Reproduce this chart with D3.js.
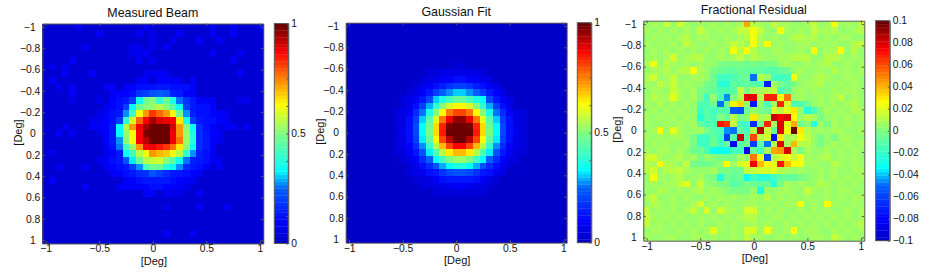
<!DOCTYPE html>
<html>
<head>
<meta charset="utf-8">
<script src="https://cdn.jsdelivr.net/npm/d3@7"></script>
<style>
  html, body { margin: 0; padding: 0; background: #fff; }
  text { font-family: "Liberation Sans", Arial, sans-serif; fill: #111; }
  .tick text { font-size: 10.3px; }
  .title { font-size: 12.4px; }
  .label { font-size: 11px; }
</style>
</head>
<body>
<svg id="chart" width="932" height="273"></svg>
<script>
// 33 x 33 maps, one row per line (percent of full scale)
const measuredRows = [
  [3,3,3,3,3,9,3,3,3,3,3,3,3,3,3,9,3,3,3,3,3,3,3,3,3,8,3,3,8,3,3,3,8],
  [3,3,3,3,3,3,3,3,8,3,3,3,3,3,8,3,7,3,3,3,8,3,3,3,3,8,3,3,8,3,3,3,3],
  [3,3,3,3,3,3,3,3,3,3,3,3,3,3,3,3,7,3,3,8,3,3,3,8,3,3,8,3,3,3,3,3,3],
  [3,3,3,3,3,3,8,3,3,3,3,3,3,7,7,3,7,3,8,3,3,3,3,3,3,3,3,3,3,3,3,3,3],
  [3,3,3,3,3,3,3,3,3,3,3,3,3,7,7,8,3,3,3,3,3,3,3,3,3,8,3,3,3,8,3,3,3],
  [3,3,3,3,8,3,3,3,3,3,3,3,3,3,8,3,8,3,3,3,3,3,3,3,3,3,3,3,8,3,3,3,3],
  [3,7,3,7,3,3,3,3,3,3,3,3,3,3,3,3,3,3,3,3,3,3,3,3,3,3,3,3,3,3,3,3,3],
  [3,3,3,8,3,3,3,8,3,3,3,3,3,3,3,7,7,9,7,3,3,3,3,3,3,3,3,3,3,8,3,3,3],
  [3,8,3,3,3,3,3,3,3,3,3,3,3,3,8,8,3,10,10,8,8,3,8,3,3,3,3,3,3,3,3,3,3],
  [3,3,7,3,8,3,3,3,3,8,9,3,8,10,12,12,12,14,14,12,12,11,9,3,3,3,3,3,3,3,3,3,3],
  [3,3,3,3,8,3,3,3,3,3,8,10,10,12,18,20,22,24,22,15,13,10,9,3,3,3,3,3,3,3,3,3,3],
  [3,3,3,3,6,3,3,3,7,3,10,11,13,20,35,47,50,40,48,36,25,18,13,10,8,8,3,3,3,7,7,3,3],
  [3,3,3,3,3,3,3,3,3,7,10,12,20,33,47,50,52,56,50,45,35,20,14,12,11,10,3,3,3,3,3,3,3],
  [3,3,3,3,3,3,3,3,6,9,11,14,28,42,62,72,82,78,73,62,48,28,15,12,12,10,9,7,3,3,3,3,3],
  [3,3,3,3,3,3,3,7,7,10,12,20,40,58,78,87,95,90,88,86,65,37,20,14,12,11,10,8,3,3,3,3,3],
  [3,3,3,8,3,3,3,8,8,10,14,34,55,72,88,95,100,100,100,90,73,50,33,16,11,8,6,9,9,3,9,3,3],
  [3,3,8,3,8,3,3,3,6,10,14,33,52,63,87,98,100,100,100,88,73,52,36,17,13,10,8,3,3,3,3,3,3],
  [3,3,3,3,3,3,3,3,3,10,14,28,50,62,87,93,100,100,100,88,76,52,38,17,13,9,7,3,3,3,3,3,3],
  [3,3,3,3,3,3,3,3,3,8,12,25,42,52,72,87,88,85,82,75,65,50,35,16,13,9,3,3,3,3,3,3,3],
  [3,7,3,3,3,3,3,3,3,7,10,14,35,42,55,62,72,70,68,62,55,40,28,15,12,8,3,3,3,3,3,3,3],
  [3,3,3,3,3,3,3,3,7,9,11,13,22,32,48,55,57,58,50,45,35,25,15,13,11,9,7,3,3,3,3,3,3],
  [3,3,8,3,3,3,8,3,3,8,10,12,14,20,28,42,47,46,38,34,28,16,13,11,9,3,8,3,3,3,3,3,3],
  [3,3,3,3,3,3,3,3,3,3,8,10,12,14,16,18,22,20,16,14,14,11,10,8,3,3,3,3,3,3,3,3,3],
  [3,8,3,3,3,3,3,3,3,3,3,3,8,10,12,14,14,14,13,12,10,8,8,3,3,3,3,3,3,3,3,3,3],
  [3,3,3,3,3,3,8,3,3,3,3,8,8,10,9,10,11,11,10,9,8,7,3,3,3,3,3,3,3,3,3,3,3],
  [3,3,3,3,3,3,3,3,3,3,3,3,3,3,3,8,9,3,7,7,7,3,3,8,3,3,3,3,3,3,3,3,3],
  [3,3,3,3,3,3,3,3,3,3,3,3,3,3,3,3,3,3,3,3,3,3,3,3,3,3,3,3,3,3,3,3,3],
  [3,3,3,3,3,3,3,3,3,3,3,3,3,3,3,3,3,3,7,3,3,3,3,8,3,3,3,8,3,3,3,3,3],
  [3,3,3,3,3,3,3,3,3,3,3,3,3,3,3,3,3,3,3,3,3,3,3,3,3,3,3,3,3,3,3,3,3],
  [3,3,3,3,3,3,3,3,3,3,3,3,3,3,3,3,3,3,3,3,3,3,3,3,3,3,3,3,3,3,3,3,3],
  [3,3,3,3,3,3,3,3,3,3,3,3,3,3,3,3,3,3,3,3,3,3,3,3,3,3,3,3,3,3,3,3,3],
  [3,3,3,3,3,3,3,3,3,3,3,3,3,3,3,3,3,3,8,3,3,3,8,3,3,3,3,3,3,3,3,3,3],
  [3,3,3,3,3,3,3,3,3,3,3,3,3,3,3,3,3,3,3,3,3,3,3,3,3,3,3,3,3,3,3,3,3]
];

const fitRows = [
  [1,1,1,1,1,1,1,1,1,1,1,1,1,1,1,1,1,1,1,1,1,1,1,1,1,1,1,1,1,1,1,1,1],
  [1,1,1,1,1,1,1,1,1,1,1,1,1,1,1,1,1,1,1,1,1,1,1,1,1,1,1,1,1,1,1,1,1],
  [1,1,1,1,1,1,1,1,1,1,1,1,1,1,1,1,1,1,1,1,1,1,1,1,1,1,1,1,1,1,1,1,1],
  [1,1,1,1,1,1,1,1,1,1,1,1,1,1,1,1,1,1,1,1,1,1,1,1,1,1,1,1,1,1,1,1,1],
  [1,1,1,1,1,1,1,1,1,1,1,1,1,1,1,1,1,1,1,1,1,1,1,1,1,1,1,1,1,1,1,1,1],
  [1,1,1,1,1,1,1,1,1,1,1,1,1,1,1,1,1,1,1,1,1,1,1,1,1,1,1,1,1,1,1,1,1],
  [1,1,1,1,1,1,1,1,1,1,1,1,1,1,1,1,4,4,1,1,1,1,1,1,1,1,1,1,1,1,1,1,1],
  [1,1,1,1,1,1,1,1,1,1,1,1,4,4,5,5,6,6,5,5,4,1,1,1,1,1,1,1,1,1,1,1,1],
  [1,1,1,1,1,1,1,1,1,1,1,4,5,7,9,10,11,11,10,9,7,5,1,1,1,1,1,1,1,1,1,1,1],
  [1,1,1,1,1,1,1,1,1,1,4,6,9,12,15,18,19,19,18,15,12,9,6,1,1,1,1,1,1,1,1,1,1],
  [1,1,1,1,1,1,1,1,1,4,6,10,14,19,24,28,31,31,28,24,19,14,10,6,1,1,1,1,1,1,1,1,1],
  [1,1,1,1,1,1,1,1,4,5,9,14,21,31,36,42,46,46,42,36,33,21,14,9,5,1,1,1,1,1,1,1,1],
  [1,1,1,1,1,1,1,1,4,7,12,20,29,40,50,58,63,63,58,50,40,29,20,12,7,1,1,1,1,1,1,1,1],
  [1,1,1,1,1,1,1,4,5,9,16,26,37,51,64,75,81,81,75,64,51,37,26,16,9,5,4,1,1,1,1,1,1],
  [1,1,1,1,1,1,1,4,6,11,19,30,44,60,76,89,96,96,89,76,60,44,30,19,11,6,4,1,1,1,1,1,1],
  [1,1,1,1,1,1,1,4,6,12,21,33,48,66,83,97,100,100,97,83,66,48,33,21,12,6,4,1,1,1,1,1,1],
  [1,1,1,1,1,1,1,4,7,12,21,34,49,67,85,99,100,100,99,85,67,49,34,21,12,7,4,1,1,1,1,1,1],
  [1,1,1,1,1,1,1,4,6,11,20,32,46,63,80,93,100,100,93,80,63,46,32,20,11,6,4,1,1,1,1,1,1],
  [1,1,1,1,1,1,1,4,5,10,17,28,40,55,69,81,87,87,81,69,55,40,28,17,10,5,4,1,1,1,1,1,1],
  [1,1,1,1,1,1,1,4,4,8,14,22,32,44,56,65,70,70,65,56,44,32,22,14,8,4,4,1,1,1,1,1,1],
  [1,1,1,1,1,1,1,1,4,6,10,17,24,33,42,49,52,52,49,42,33,24,17,10,6,4,1,1,1,1,1,1,1],
  [1,1,1,1,1,1,1,1,1,4,7,11,17,23,29,33,36,36,33,29,23,17,11,7,4,1,1,1,1,1,1,1,1],
  [1,1,1,1,1,1,1,1,1,4,5,7,11,14,18,21,23,23,21,18,14,11,7,5,1,1,1,1,1,1,1,1,1],
  [1,1,1,1,1,1,1,1,1,1,4,4,6,9,11,13,14,14,13,11,9,6,4,1,1,1,1,1,1,1,1,1,1],
  [1,1,1,1,1,1,1,1,1,1,1,4,4,5,6,7,8,8,7,6,5,4,1,1,1,1,1,1,1,1,1,1,1],
  [1,1,1,1,1,1,1,1,1,1,1,1,1,4,4,4,4,4,4,4,4,1,1,1,1,1,1,1,1,1,1,1,1],
  [1,1,1,1,1,1,1,1,1,1,1,1,1,1,1,1,1,1,1,1,1,1,1,1,1,1,1,1,1,1,1,1,1],
  [1,1,1,1,1,1,1,1,1,1,1,1,1,1,1,1,1,1,1,1,1,1,1,1,1,1,1,1,1,1,1,1,1],
  [1,1,1,1,1,1,1,1,1,1,1,1,1,1,1,1,1,1,1,1,1,1,1,1,1,1,1,1,1,1,1,1,1],
  [1,1,1,1,1,1,1,1,1,1,1,1,1,1,1,1,1,1,1,1,1,1,1,1,1,1,1,1,1,1,1,1,1],
  [1,1,1,1,1,1,1,1,1,1,1,1,1,1,1,1,1,1,1,1,1,1,1,1,1,1,1,1,1,1,1,1,1],
  [1,1,1,1,1,1,1,1,1,1,1,1,1,1,1,1,1,1,1,1,1,1,1,1,1,1,1,1,1,1,1,1,1],
  [1,1,1,1,1,1,1,1,1,1,1,1,1,1,1,1,1,1,1,1,1,1,1,1,1,1,1,1,1,1,1,1,1]
];

// residual in thousandths
const residualRows = [
  [6,8,6,13,6,18,7,5,9,6,7,5,8,6,9,42,12,8,5,14,7,9,6,5,7,15,6,8,24,6,7,5,15],
  [8,5,7,6,9,5,8,6,15,7,5,8,6,9,15,15,22,13,6,5,24,7,5,8,6,14,7,9,12,6,5,8,12],
  [6,7,5,8,6,9,10,6,8,7,6,5,8,5,7,12,22,7,6,8,6,5,10,10,7,12,6,8,5,7,9,6,5],
  [7,6,8,5,7,6,15,8,6,5,8,6,7,14,12,6,22,8,27,6,7,5,6,8,8,6,7,5,8,5,6,12,14],
  [5,8,6,7,6,8,5,7,6,8,6,7,5,24,12,25,12,6,5,7,8,6,5,7,6,27,6,8,9,27,5,10,6],
  [6,7,5,8,16,6,7,12,12,6,5,7,6,8,14,6,12,7,5,6,8,7,12,12,10,6,5,12,12,7,6,8,5],
  [7,24,6,12,7,5,8,6,7,5,6,-2,-3,-2,-3,-4,-2,-5,-3,-2,5,7,6,5,8,6,7,12,6,5,8,6,7],
  [6,8,7,10,6,12,12,22,7,5,-2,-6,-7,-8,-6,-7,-7,-9,-11,-11,-9,-5,5,7,6,5,8,6,12,6,7,5,8],
  [8,18,6,7,14,6,5,8,7,6,-5,-16,-16,-14,-7,-6,-48,12,5,-16,-16,-14,22,5,6,8,12,7,5,6,8,7,5],
  [7,6,15,8,14,5,7,6,5,-2,-6,-24,-24,-9,-11,-9,-11,-14,-70,8,-3,-7,-3,6,8,7,12,5,6,8,6,7,6],
  [6,8,7,5,15,8,6,7,-2,-6,-9,-14,-14,-12,15,-1,8,8,12,14,-14,-9,5,7,5,8,5,6,7,5,7,8,6],
  [5,10,8,7,20,7,5,8,-2,-16,5,-14,-45,-2,10,78,78,12,68,66,22,50,5,7,6,5,8,6,7,15,6,8,5],
  [7,6,12,5,8,6,7,4,-11,-14,-5,-48,-5,26,32,5,-72,5,-14,8,68,16,-14,-14,-6,5,7,6,8,5,7,12,6],
  [6,8,5,7,6,8,6,5,-16,-12,-16,-11,-12,-52,-55,-5,5,-3,-5,18,10,20,30,5,-22,-14,2,7,5,8,6,12,7],
  [8,6,7,5,8,6,7,5,-22,-12,-14,2,-9,10,-3,2,30,8,12,82,72,80,26,5,10,8,-3,6,7,5,8,6,7],
  [7,5,5,8,6,7,5,8,-7,-14,-12,70,65,15,-16,-16,-68,-6,66,8,80,20,42,-5,2,-24,5,-3,7,6,8,5,6],
  [5,8,28,6,20,7,6,5,8,-3,-11,-14,-45,-48,-7,-16,10,85,14,-9,80,22,100,30,12,5,7,6,8,7,5,6,8],
  [8,6,7,5,7,8,6,-3,-16,-16,-7,-16,-60,-12,82,-12,60,12,16,-78,30,8,12,22,15,6,-2,5,-3,8,7,5,6],
  [6,7,5,8,6,5,8,-2,-16,-16,-5,-16,-9,-85,-12,-6,-62,-9,-50,10,80,8,38,12,12,5,-2,6,7,5,8,6,7],
  [7,6,8,7,5,8,5,-5,-6,-14,-30,-30,-30,-16,-16,-85,-6,-16,8,42,45,80,8,-3,8,6,5,8,6,7,5,8,6],
  [14,16,8,6,7,12,5,8,-2,5,2,-3,-2,-1,8,5,50,24,-58,10,16,22,15,24,8,6,7,12,5,8,6,7,5],
  [12,7,25,10,8,5,13,-3,-5,-5,-2,5,25,8,18,20,78,40,25,20,70,40,26,22,8,7,5,6,12,7,5,8,6],
  [12,18,6,10,12,14,7,5,6,4,8,-2,-3,-6,-5,15,15,16,16,20,10,8,5,8,6,5,7,6,8,5,6,7,8],
  [5,22,7,6,8,12,6,5,8,3,-3,-28,-5,-9,-6,-30,-16,-24,-24,-16,-9,-9,-9,-3,3,6,8,5,7,6,8,5,7],
  [5,7,6,8,7,14,20,6,13,5,3,-3,-2,-11,-7,-3,-5,-7,-7,-22,-2,8,5,7,6,5,12,7,6,8,5,7,6],
  [6,5,12,7,6,8,5,7,12,6,7,5,3,-1,-2,-3,4,-28,5,6,7,8,5,6,14,7,5,8,6,7,8,6,5],
  [7,14,6,5,8,6,7,5,6,8,5,7,6,8,5,6,7,5,12,6,7,5,8,6,7,5,6,8,5,7,6,7,8],
  [5,12,7,6,8,5,6,7,18,6,8,5,7,6,5,7,8,6,5,7,6,8,7,26,5,7,6,25,8,6,5,7,6],
  [14,6,8,5,7,6,8,14,5,18,6,16,7,8,5,18,18,6,7,5,8,6,5,7,6,8,5,7,6,5,7,6,8],
  [14,7,5,8,6,7,5,6,8,5,7,6,8,5,7,12,12,6,5,8,7,6,8,5,7,6,8,5,7,6,8,5,7],
  [14,6,7,5,8,6,8,5,7,6,5,8,6,7,5,8,7,6,8,5,6,7,5,8,6,7,6,8,5,7,6,8,12],
  [6,8,7,6,5,8,6,7,5,8,20,7,6,8,5,16,16,6,24,7,5,8,22,6,8,7,5,6,8,5,7,6,8],
  [7,5,6,8,7,6,5,8,7,6,8,6,5,7,6,14,7,8,5,6,7,5,8,6,5,8,7,6,14,7,5,8,6]
];

const xTicks = [-1, -0.5, 0, 0.5, 1];
const yTicks = [-1, -0.8, -0.6, -0.4, -0.2, 0, 0.2, 0.4, 0.6, 0.8, 1];
const beamBarTicks = [0, 0.125, 0.25, 0.375, 0.5, 0.625, 0.75, 0.875, 1];
const beamBarLabels = [0, 0.5, 1];
const residualBarTicks = [-0.1, -0.08, -0.06, -0.04, -0.02, 0, 0.02, 0.04, 0.06, 0.08, 0.1];

const nCells = 33;
const nLevels = 64;
const gray = '#5a5a5a';
const fmtTick = d => d3.format('~g')(Math.abs(d) < 1e-9 ? 0 : d).replace('-', '\u2212');

// jet, bent to follow the picture's bar: stays blue longer, then climbs fast to cyan
const jet = d3.scaleLinear()
    .domain([0, 0.1, 0.25, 0.33, 0.5, 0.63, 0.87, 1])
    .range(['#0000c4', '#0000ff', '#0060ff', '#00ffff', '#80ff80', '#ffff00', '#ff0000', '#600000'])
    .clamp(true);
const level = d3.scaleQuantize().domain([0, 1]).range(d3.range(nLevels));
const levelColor = k => jet((k + 0.5) / nLevels);

const svg = d3.select('#chart');

const defs = svg.append('defs');
defs.append('filter').attr('id', 'soft')
    .attr('x', 0).attr('y', 0).attr('width', 1).attr('height', 1)
    .append('feGaussianBlur').attr('stdDeviation', 0.45);

const panels = [
  { title: 'Measured Beam', rows: measuredRows, lo: 0, hi: 100, barLo: 0, barHi: 1,
    barTicks: beamBarTicks, barLabels: beamBarLabels,
    left: 42.3, top: 23.5, barLeft: 274.3, yLabelX: 17.5, titleY: 16.5 },
  { title: 'Gaussian Fit', rows: fitRows, lo: 0, hi: 100, barLo: 0, barHi: 1,
    barTicks: beamBarTicks, barLabels: beamBarLabels,
    left: 345.7, top: 22.7, barLeft: 577.3, yLabelX: 320, titleY: 15.7 },
  { title: 'Fractional Residual', rows: residualRows, lo: -100, hi: 100, barLo: -0.1, barHi: 0.1,
    barTicks: residualBarTicks, barLabels: residualBarTicks,
    left: 643.3, top: 20.7, barLeft: 875.7, yLabelX: 617, titleY: 14.3 }
];

const plotW = 221;
const plotH = 220;
const barW = 14;

panels.forEach(drawPanel);

function drawPanel(p) {
    const g = svg.append('g').attr('transform', `translate(${p.left},${p.top})`);

    const cellX = d3.scaleBand().domain(d3.range(nCells)).range([0, plotW]);
    const cellY = d3.scaleBand().domain(d3.range(nCells)).range([0, plotH]);
    const x = d3.scaleLinear().domain([-1.03125, 1.03125]).range([0, plotW]);
    const y = d3.scaleLinear().domain([-1.03125, 1.03125]).range([0, plotH]);
    const norm = d3.scaleLinear().domain([p.lo, p.hi]).range([0, 1]);

    const cells = p.rows.flatMap((row, j) => row.map((v, i) => ({ i, j, v })));
    g.append('g')
        .attr('filter', 'url(#soft)')
        .attr('shape-rendering', 'crispEdges')
        .selectAll('rect')
        .data(cells)
        .enter().append('rect')
        .attr('x', d => cellX(d.i))
        .attr('y', d => cellY(d.j))
        .attr('width', cellX.bandwidth() + 0.5)
        .attr('height', cellY.bandwidth() + 0.5)
        .attr('fill', d => levelColor(level(norm(d.v))));

    // axes on all four sides, ticks pointing in
    g.append('g').attr('class', 'axis').attr('transform', `translate(0,${plotH})`)
        .call(d3.axisBottom(x).tickValues(xTicks).tickFormat(fmtTick).tickSizeInner(-2.5).tickSizeOuter(0).tickPadding(1.5));
    g.append('g').attr('class', 'axis')
        .call(d3.axisTop(x).tickValues(xTicks).tickFormat('').tickSizeInner(-2.5).tickSizeOuter(0));
    const leftAxis = g.append('g').attr('class', 'axis')
        .call(d3.axisLeft(y).tickValues(yTicks).tickFormat(fmtTick).tickSizeInner(-2.5).tickSizeOuter(0).tickPadding(2));
    // whole numbers line up with the digit before the point on the decimals
    leftAxis.selectAll('.tick text').attr('dx', d => Number.isInteger(d) ? -4.7 : 0);
    g.append('g').attr('class', 'axis').attr('transform', `translate(${plotW},0)`)
        .call(d3.axisRight(y).tickValues(yTicks).tickFormat('').tickSizeInner(-2.5).tickSizeOuter(0));

    g.selectAll('.axis path, .axis line').attr('stroke', gray).attr('stroke-width', 1);

    svg.append('text').attr('class', 'title')
        .attr('x', p.left + plotW / 2)
        .attr('y', p.titleY)
        .attr('text-anchor', 'middle')
        .text(p.title);

    svg.append('text').attr('class', 'label')
        .attr('x', p.left + plotW / 2 + 1)
        .attr('y', p.top + plotH + 21)
        .attr('text-anchor', 'middle')
        .text('[Deg]');

    svg.append('text').attr('class', 'label')
        .attr('transform', `translate(${p.yLabelX + 4},${p.top + plotH / 2 - 1}) rotate(-90)`)
        .attr('text-anchor', 'middle')
        .text('[Deg]');

    // colorbar
    const bar = svg.append('g').attr('transform', `translate(${p.barLeft},${p.top})`);
    const barBand = d3.scaleBand().domain(d3.range(nLevels)).range([plotH, 0]);
    bar.selectAll('rect')
        .data(d3.range(nLevels))
        .enter().append('rect')
        .attr('x', 0)
        .attr('y', d => barBand(d))
        .attr('width', barW)
        .attr('height', barBand.bandwidth() + 0.3)
        .attr('fill', levelColor);

    const barY = d3.scaleLinear().domain([p.barLo, p.barHi]).range([plotH, 0]);
    bar.append('g').attr('class', 'axis').attr('transform', `translate(${barW},0)`)
        .call(d3.axisRight(barY).tickValues(p.barTicks)
            .tickFormat(d => p.barLabels.includes(d) ? fmtTick(d) : '')
            .tickSizeInner(-2).tickSizeOuter(0).tickPadding(3));
    bar.append('rect')
        .attr('width', barW).attr('height', plotH)
        .attr('fill', 'none').attr('stroke', gray);
    bar.selectAll('.axis path, .axis line').attr('stroke', gray);
}
</script>
</body>
</html>
